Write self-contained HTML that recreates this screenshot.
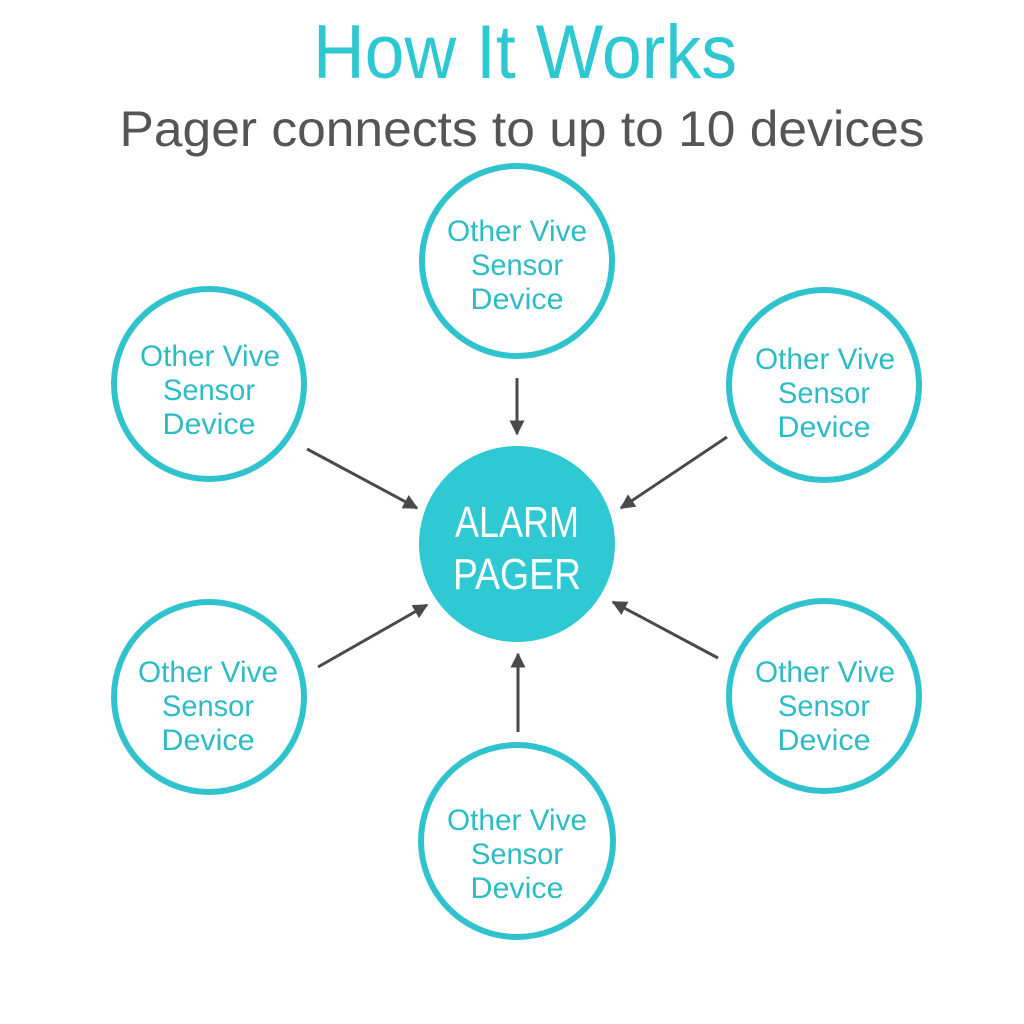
<!DOCTYPE html>
<html><head><meta charset="utf-8"><style>
html,body{margin:0;padding:0;background:#fff;}
svg{display:block;}
text{font-family:"Liberation Sans",sans-serif;}
</style></head><body>
<svg width="1024" height="1024" viewBox="0 0 1024 1024" xmlns="http://www.w3.org/2000/svg">
<rect width="1024" height="1024" fill="#fff"/>
<text x="525" y="78" text-anchor="middle" font-size="76" fill="#2ec8d2" textLength="424" lengthAdjust="spacingAndGlyphs">How It Works</text>
<text x="522" y="146" text-anchor="middle" font-size="50" fill="#555555" textLength="805" lengthAdjust="spacingAndGlyphs">Pager connects to up to 10 devices</text>

<g fill="none" stroke="#30c3ce" stroke-width="6">
<circle cx="517" cy="261" r="95"/>
<circle cx="209" cy="384" r="95"/>
<circle cx="824" cy="385" r="95"/>
<circle cx="209" cy="697" r="95"/>
<circle cx="824" cy="696" r="95"/>
<circle cx="517" cy="841" r="96"/>
</g>
<circle cx="517" cy="544" r="98" fill="#2ec9d2"/>
<text x="517" y="537" text-anchor="middle" font-size="44" fill="#fff" textLength="124" lengthAdjust="spacingAndGlyphs">ALARM</text>
<text x="517" y="589" text-anchor="middle" font-size="44" fill="#fff" textLength="128" lengthAdjust="spacingAndGlyphs">PAGER</text>

<g fill="#2cbcc6" font-size="30" text-anchor="middle">
<text x="517" y="241" textLength="140" lengthAdjust="spacingAndGlyphs">Other Vive</text>
<text x="517" y="275" textLength="92" lengthAdjust="spacingAndGlyphs">Sensor</text>
<text x="517" y="309" textLength="93" lengthAdjust="spacingAndGlyphs">Device</text>

<text x="210" y="366" textLength="140" lengthAdjust="spacingAndGlyphs">Other Vive</text>
<text x="209" y="400" textLength="92" lengthAdjust="spacingAndGlyphs">Sensor</text>
<text x="209" y="434" textLength="93" lengthAdjust="spacingAndGlyphs">Device</text>

<text x="825" y="369" textLength="140" lengthAdjust="spacingAndGlyphs">Other Vive</text>
<text x="824" y="403" textLength="92" lengthAdjust="spacingAndGlyphs">Sensor</text>
<text x="824" y="437" textLength="93" lengthAdjust="spacingAndGlyphs">Device</text>

<text x="208" y="682" textLength="140" lengthAdjust="spacingAndGlyphs">Other Vive</text>
<text x="208" y="716" textLength="92" lengthAdjust="spacingAndGlyphs">Sensor</text>
<text x="208" y="750" textLength="93" lengthAdjust="spacingAndGlyphs">Device</text>

<text x="825" y="682" textLength="140" lengthAdjust="spacingAndGlyphs">Other Vive</text>
<text x="824" y="716" textLength="92" lengthAdjust="spacingAndGlyphs">Sensor</text>
<text x="824" y="750" textLength="93" lengthAdjust="spacingAndGlyphs">Device</text>

<text x="517" y="830" textLength="140" lengthAdjust="spacingAndGlyphs">Other Vive</text>
<text x="517" y="864" textLength="92" lengthAdjust="spacingAndGlyphs">Sensor</text>
<text x="517" y="898" textLength="93" lengthAdjust="spacingAndGlyphs">Device</text>
</g>

<defs>
<marker id="ah" viewBox="0 0 10 10" refX="9" refY="5" markerWidth="5" markerHeight="5" markerUnits="strokeWidth" orient="auto">
<path d="M0,0 L10,5 L0,10 z" fill="#4a4a4a"/>
</marker>
</defs>
<g stroke="#4a4a4a" stroke-width="3" fill="none" marker-end="url(#ah)">
<line x1="517" y1="378" x2="517" y2="434"/>
<line x1="307" y1="449" x2="417" y2="508"/>
<line x1="727" y1="437" x2="621" y2="508"/>
<line x1="318" y1="667" x2="427" y2="605"/>
<line x1="718" y1="658" x2="613" y2="602"/>
<line x1="518" y1="732" x2="518" y2="654"/>
</g>
</svg>
</body></html>
